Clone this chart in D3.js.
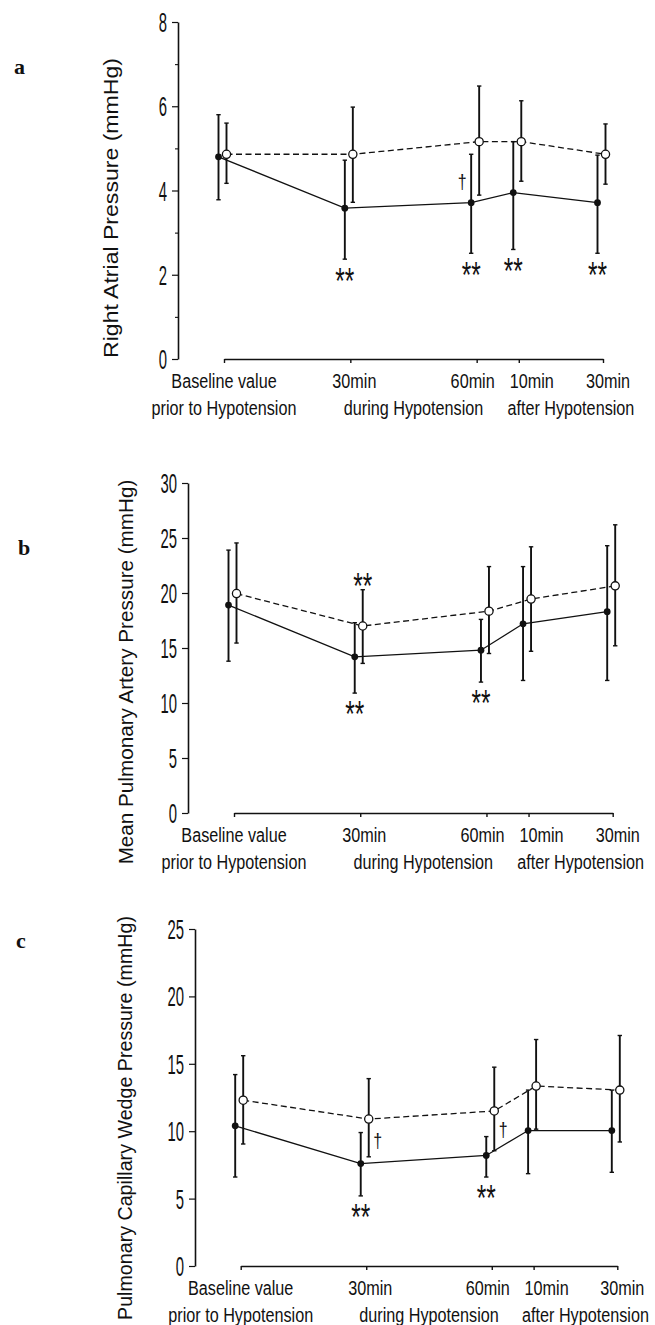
<!DOCTYPE html>
<html lang="en">
<head>
<meta charset="UTF-8">
<title>Pressures during hypotension</title>
<script src="https://cdn.jsdelivr.net/npm/d3@7/dist/d3.min.js"></script>
<style>
    body { margin: 0; background: #fff; }
    svg { display: block; }
    text { font-family: "Liberation Sans", Arial, sans-serif; fill: #111; }
</style>
</head>
<body>
<svg id="chart" width="655" height="1325"></svg>
<script>
// time points (minutes from start): baseline, 30 & 60 min during, 10 & 30 min after
const times = [0, 30, 60, 70, 90];
const tickNames = ["Baseline value", "30min", "60min", "10min", "30min"];
const phaseNames = ["prior to Hypotension", "during Hypotension", "after Hypotension"];

// a - right atrial pressure
const raFilled   = [4.8, 3.58, 3.71, 3.95, 3.71];
const raFilledLo = [3.78, 2.37, 2.51, 2.6, 2.51];
const raFilledHi = [5.8, 4.72, 4.86, 5.16, 4.84];
const raOpen     = [4.86, 4.86, 5.16, 5.16, 4.86];
const raOpenLo   = [4.17, 3.72, 3.89, 4.22, 4.15];
const raOpenHi   = [5.6, 5.98, 6.48, 6.13, 5.58];

// b - mean pulmonary artery pressure
const papFilled   = [18.9, 14.2, 14.8, 17.2, 18.3];
const papFilledLo = [13.8, 10.9, 11.9, 12.05, 12.05];
const papFilledHi = [23.9, 17.3, 17.6, 22.4, 24.3];
const papOpen     = [19.95, 17.0, 18.35, 19.45, 20.65];
const papOpenLo   = [15.45, 13.6, 14.5, 14.7, 15.2];
const papOpenHi   = [24.55, 20.3, 22.4, 24.2, 26.2];

// c - pulmonary capillary wedge pressure
const pcwFilled   = [10.4, 7.6, 8.2, 10.05, 10.05];
const pcwFilledLo = [6.6, 5.2, 6.6, 6.85, 6.95];
const pcwFilledHi = [14.2, 9.9, 9.6, 13.05, 13.05];
const pcwOpen     = [12.3, 10.9, 11.5, 13.35, 13.05];
const pcwOpenLo   = [9.05, 8.1, 8.55, 10.15, 9.2];
const pcwOpenHi   = [15.6, 13.9, 14.75, 16.8, 17.1];

// significance marks: index, series
const raStars  = [{ i: 1, s: "filled" }, { i: 2, s: "filled" }, { i: 3, s: "filled" }, { i: 4, s: "filled" }];
const raDaggers = [{ i: 2, v: 4.2, side: -1 }];
const papStars = [{ i: 1, s: "open" }, { i: 1, s: "filled" }, { i: 2, s: "filled" }];
const papDaggers = [];
const pcwStars = [{ i: 1, s: "filled" }, { i: 2, s: "filled" }];
const pcwDaggers = [{ i: 1, v: 9.3, side: 1 }, { i: 2, v: 10.1, side: 1 }];

const svg = d3.select("#chart");
svg.append("rect").attr("width", 655).attr("height", 1325).attr("fill", "#fff");

// narrow text by scaling it horizontally around its anchor point
function narrowText(parent, x, y, str, size, sx, anchor) {
    return parent.append("text")
        .attr("transform", `translate(${x},${y}) scale(${sx},1)`)
        .attr("text-anchor", anchor || "middle")
        .style("font-size", size + "px")
        .text(str);
}

const panels = [
    {
        letter: "a", letterX: 14, letterY: 74,
        title: "Right Atrial Pressure (mmHg)", titleX: 118, titleY: 208, titleLen: 300,
        yMax: 8, yTicks: [0, 2, 4, 6, 8], yMinor: [1, 3, 5, 7],
        axisX: 178, yBottom: 359, yTop: 22, xLeft: 224, xRight: 603,
        filled: raFilled, filledLo: raFilledLo, filledHi: raFilledHi,
        open: raOpen, openLo: raOpenLo, openHi: raOpenHi,
        stars: raStars, daggers: raDaggers
    },
    {
        letter: "b", letterX: 18, letterY: 555,
        title: "Mean Pulmonary Artery Pressure (mmHg)", titleX: 133, titleY: 672, titleLen: 385,
        yMax: 30, yTicks: [0, 5, 10, 15, 20, 25, 30], yMinor: [],
        axisX: 188, yBottom: 813, yTop: 483, xLeft: 234, xRight: 612.7,
        filled: papFilled, filledLo: papFilledLo, filledHi: papFilledHi,
        open: papOpen, openLo: papOpenLo, openHi: papOpenHi,
        stars: papStars, daggers: papDaggers
    },
    {
        letter: "c", letterX: 16, letterY: 948,
        title: "Pulmonary Capillary Wedge Pressure (mmHg)", titleX: 132, titleY: 1118, titleLen: 404,
        yMax: 25, yTicks: [0, 5, 10, 15, 20, 25], yMinor: [],
        axisX: 195, yBottom: 1266, yTop: 929, xLeft: 240.7, xRight: 617.3,
        filled: pcwFilled, filledLo: pcwFilledLo, filledHi: pcwFilledHi,
        open: pcwOpen, openLo: pcwOpenLo, openHi: pcwOpenHi,
        stars: pcwStars, daggers: pcwDaggers
    }
];

// label nudges so the crowded 60min / 10min labels don't collide
const tickDx = [0, 4, -4, 13, 5];
const filledDx = -5.5, openDx = 2.5;

panels.forEach(p => {
    const g = svg.append("g");
    const x = d3.scaleLinear().domain([0, 90]).range([p.xLeft, p.xRight]);
    const y = d3.scaleLinear().domain([0, p.yMax]).range([p.yBottom, p.yTop]);

    // panel letter
    g.append("text")
        .attr("x", p.letterX).attr("y", p.letterY)
        .style("font-family", "'Liberation Serif', 'Times New Roman', serif")
        .style("font-weight", "bold").style("font-size", "22px")
        .text(p.letter);

    // y axis
    const yAxis = g.append("g")
        .attr("transform", `translate(${p.axisX},0)`)
        .call(d3.axisLeft(y).tickValues(p.yTicks).tickSize(6).tickSizeOuter(0).tickFormat(""));
    yAxis.select(".domain").attr("stroke", "#111").attr("stroke-width", 1.6);
    yAxis.selectAll(".tick line").attr("stroke", "#111").attr("stroke-width", 1.2);

    const yl = g.append("g");
    p.yTicks.forEach(v => {
        narrowText(yl, p.axisX - 11, y(v) + 10, String(v), 27, 0.55, "end");
    });

    if (p.yMinor.length) {
        const minor = g.append("g")
            .attr("transform", `translate(${p.axisX},0)`)
            .call(d3.axisLeft(y).tickValues(p.yMinor).tickSize(3).tickSizeOuter(0).tickFormat(""));
        minor.select(".domain").remove();
        minor.selectAll(".tick line").attr("stroke", "#111").attr("stroke-width", 1.1);
    }

    // y title, stretched to the measured length
    const title = g.append("text")
        .attr("text-anchor", "middle")
        .style("font-size", "20px")
        .text(p.title);
    const tw = title.node().getComputedTextLength();
    title.attr("transform", `translate(${p.titleX},${p.titleY}) rotate(-90) scale(${p.titleLen / tw},1)`);

    // x axis
    const xAxis = g.append("g")
        .attr("transform", `translate(0,${p.yBottom})`)
        .call(d3.axisBottom(x).tickValues(times).tickSize(4).tickSizeOuter(0).tickFormat(""));
    xAxis.select(".domain").attr("stroke", "#111").attr("stroke-width", 1.4);
    xAxis.selectAll(".tick line").attr("stroke", "#111").attr("stroke-width", 1.4);

    const xl = g.append("g");
    tickNames.forEach((t, i) => {
        narrowText(xl, x(times[i]) + tickDx[i], p.yBottom + 29, t, 20, 0.81);
    });
    const phaseX = [x(times[0]), (x(times[1]) + x(times[2])) / 2, (x(times[3]) + x(times[4])) / 2 + 10];
    phaseNames.forEach((t, i) => {
        narrowText(xl, phaseX[i], p.yBottom + 56, t, 20, 0.81);
    });

    const fx = i => x(times[i]) + filledDx;
    const ox = i => x(times[i]) + openDx;

    // connecting lines
    const line = d3.line().x(d => d[0]).y(d => d[1]);
    g.append("path")
        .datum(p.filled.map((v, i) => [fx(i), y(v)]))
        .attr("d", line).attr("fill", "none")
        .attr("stroke", "#111").attr("stroke-width", 1.3);
    g.append("path")
        .datum(p.open.map((v, i) => [ox(i), y(v)]))
        .attr("d", line).attr("fill", "none")
        .attr("stroke", "#111").attr("stroke-width", 1.3)
        .attr("stroke-dasharray", "6,3.5");

    // error bars
    function errorBars(xs, lo, hi) {
        const eb = g.append("g").selectAll("g")
            .data(lo.map((l, i) => ({ i, l, h: hi[i] })))
            .enter().append("g")
            .attr("stroke", "#111");
        eb.append("line")
            .attr("x1", d => xs(d.i)).attr("x2", d => xs(d.i))
            .attr("y1", d => y(d.l)).attr("y2", d => y(d.h))
            .attr("stroke-width", 1.9);
        eb.append("line")
            .attr("x1", d => xs(d.i) - 2.2).attr("x2", d => xs(d.i) + 2.2)
            .attr("y1", d => y(d.h)).attr("y2", d => y(d.h))
            .attr("stroke-width", 1.4);
        eb.append("line")
            .attr("x1", d => xs(d.i) - 2.2).attr("x2", d => xs(d.i) + 2.2)
            .attr("y1", d => y(d.l)).attr("y2", d => y(d.l))
            .attr("stroke-width", 1.4);
    }
    errorBars(fx, p.filledLo, p.filledHi);
    errorBars(ox, p.openLo, p.openHi);

    // markers
    g.append("g").selectAll("circle")
        .data(p.filled)
        .enter().append("circle")
        .attr("cx", (d, i) => fx(i)).attr("cy", d => y(d))
        .attr("r", 3.4).attr("fill", "#111");
    g.append("g").selectAll("circle")
        .data(p.open)
        .enter().append("circle")
        .attr("cx", (d, i) => ox(i)).attr("cy", d => y(d))
        .attr("r", 4.1).attr("fill", "#fff")
        .attr("stroke", "#111").attr("stroke-width", 1.3);

    // ** marks: below filled bars, above open bars (asterisk centre ~0.58em above baseline)
    const sg = g.append("g");
    p.stars.forEach(d => {
        const sx = d.s === "filled" ? fx(d.i) : ox(d.i);
        const cy = d.s === "filled" ? y(p.filledLo[d.i]) + 13.5 : y(p.openHi[d.i]) - 12;
        narrowText(sg, sx, cy + 0.58 * 36, "**", 36, 0.68);
    });

    // daggers
    const dg = g.append("g");
    p.daggers.forEach(d => {
        const dx = (d.side < 0 ? fx(d.i) : ox(d.i)) + d.side * 9;
        narrowText(dg, dx, y(d.v) + 7, "\u2020", 20, 0.8);
    });
});
</script>
</body>
</html>
